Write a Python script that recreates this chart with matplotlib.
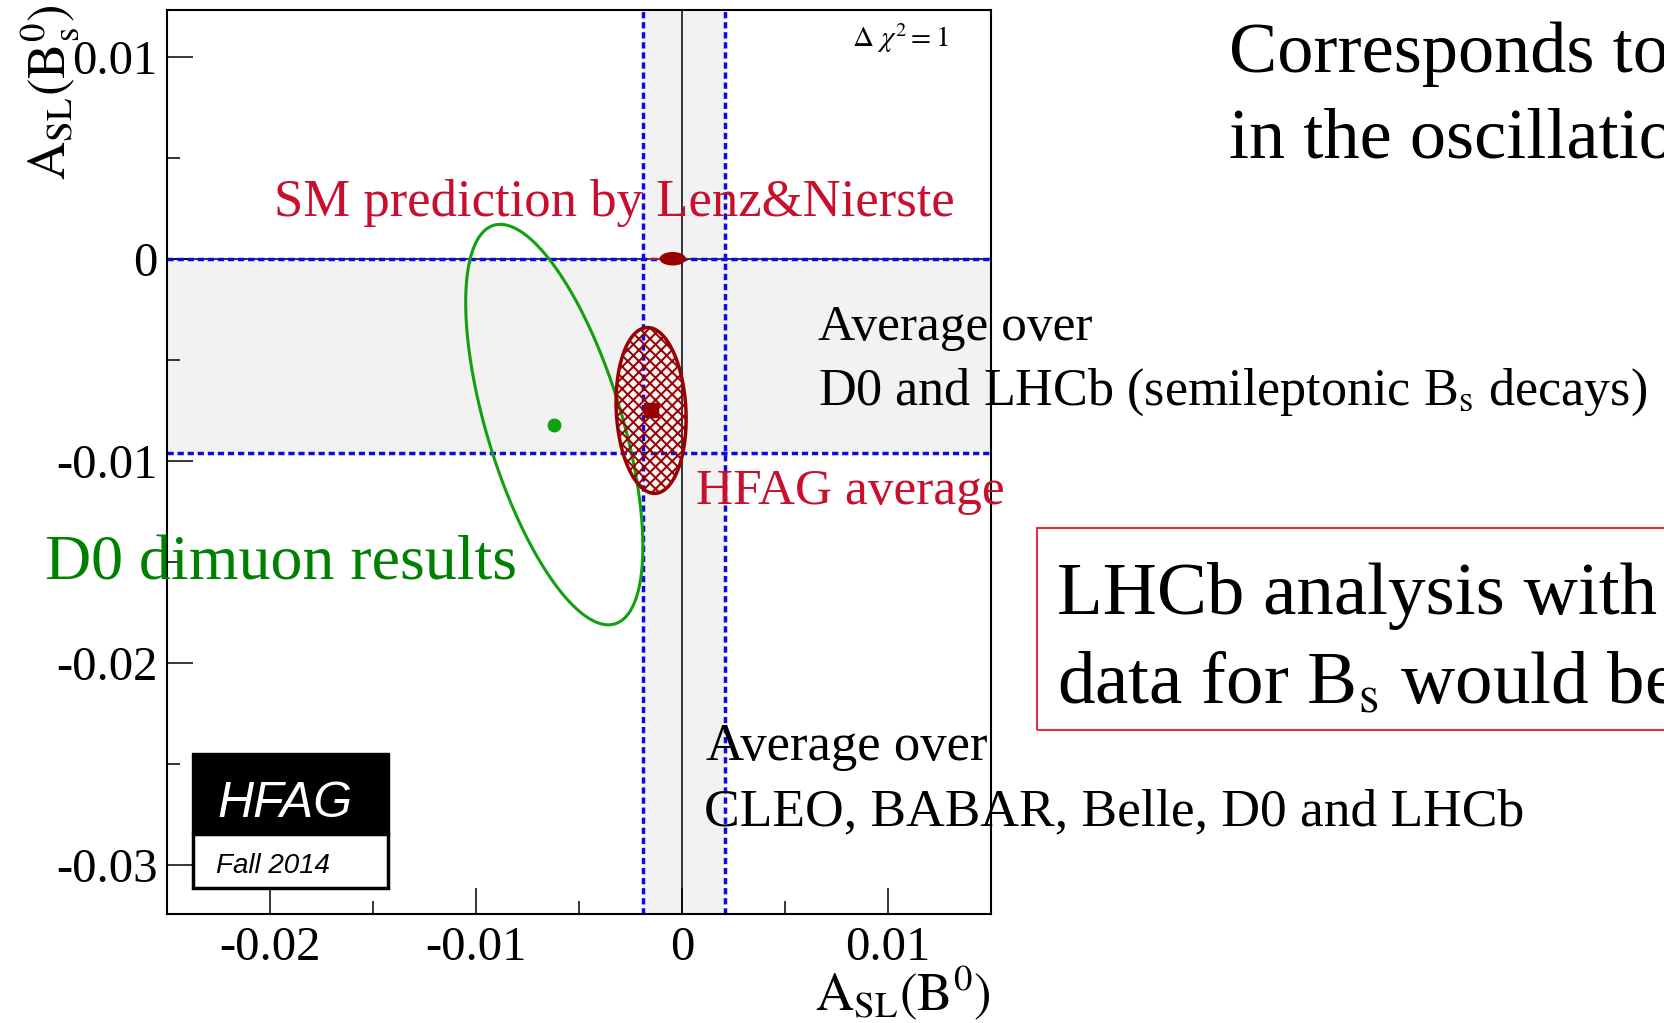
import numpy as np
import matplotlib
matplotlib.use("Agg")
import matplotlib.pyplot as plt
from matplotlib.patches import Polygon, Ellipse, Rectangle
from matplotlib.ticker import MultipleLocator, FuncFormatter

plt.rcParams['font.family'] = 'Liberation Serif'
plt.rcParams['mathtext.fontset'] = 'stix'
plt.rcParams['axes.unicode_minus'] = False
plt.rcParams['hatch.linewidth'] = 1.4

# plot ranges
x_range = (-0.025, 0.015)
y_range = (-0.0324, 0.0123)
x_major = [-0.02, -0.01, 0.0, 0.01]
y_major = [-0.03, -0.02, -0.01, 0.0, 0.01]

# D0 dimuon: a_sl(d), a_sl(s), errors, correlation
d0_center = (-0.0062, -0.0082)
d0_sigma = (0.0043, 0.0099)
d0_rho = -0.61

# HFAG average
hfag_center = (-0.0015, -0.0075)
hfag_sigma = (0.0017, 0.0041)
hfag_rho = -0.10

# SM prediction (Lenz & Nierste)
sm_center = (-0.00045, 0.0)
sm_halfwidth = (0.0006, 0.0003)
sm_line = (-0.0016, 0.0002)

# 1D averages
bd_avg, bd_err = 0.0001, 0.0020
bs_avg, bs_err = -0.0048, 0.0048

W, H = 1665, 1023
fx = lambda px: px / W
fy = lambda py: 1 - py / H

red = '#c8102e'
dark_red = '#990000'
green = '#10a010'
blue = '#0a0ae6'


def contour(center, sigma, rho, n=400):
    t = np.linspace(0, 2 * np.pi, n)
    x = center[0] + sigma[0] * np.cos(t)
    y = center[1] + sigma[1] * (rho * np.cos(t) + np.sqrt(1 - rho ** 2) * np.sin(t))
    return np.column_stack([x, y])


fig = plt.figure(figsize=(16.65, 10.23), dpi=100)
ax = fig.add_axes([fx(167), fy(914), (991 - 167) / W, (914 - 10) / H])
ax.set_xlim(*x_range)
ax.set_ylim(*y_range)

# 1 sigma bands
ax.axvspan(bd_avg - bd_err, bd_avg + bd_err, color='#f2f2f2', zorder=0, lw=0)
ax.axhspan(bs_avg - bs_err, bs_avg + bs_err, color='#f2f2f2', zorder=0, lw=0)
ax.axvline(0, color='#333333', lw=1.4, zorder=1)
ax.axhline(0, color='#333333', lw=1.4, zorder=1)
for v in (bd_avg - bd_err, bd_avg + bd_err):
    ax.axvline(v, color=blue, lw=2.5, ls=(0, (1.8, 1.1)), zorder=2)
for v in (bs_avg - bs_err, bs_avg + bs_err):
    ax.axhline(v, color=blue, lw=2.5, ls=(0, (1.8, 1.1)), zorder=2)

# D0 dimuon ellipse
ax.add_patch(Polygon(contour(d0_center, d0_sigma, d0_rho), closed=True,
                     fill=False, edgecolor=green, lw=2.2, zorder=3))
ax.plot(*d0_center, 'o', color=green, ms=9, zorder=4)

# HFAG average ellipse
ax.add_patch(Polygon(contour(hfag_center, hfag_sigma, hfag_rho), closed=True,
                     facecolor='none', edgecolor=dark_red, hatch='xxx', lw=2.5, zorder=3))
ax.plot(*hfag_center, 's', color=dark_red, ms=10, zorder=4)

# SM point
ax.plot(sm_line, [sm_center[1]] * 2, color='#cc2222', lw=1.2, zorder=4)
ax.add_patch(Ellipse(sm_center, 2 * sm_halfwidth[0], 2 * sm_halfwidth[1],
                     color=dark_red, zorder=5))

# axes styling
ax.set_xticks(x_major)
ax.set_yticks(y_major)
ax.xaxis.set_minor_locator(MultipleLocator(0.005))
ax.yaxis.set_minor_locator(MultipleLocator(0.005))
fmt = FuncFormatter(lambda v, p: '0' if abs(v) < 1e-9 else f'{v:g}')
ax.xaxis.set_major_formatter(fmt)
ax.yaxis.set_major_formatter(fmt)
ax.tick_params(which='major', direction='in', length=19, width=1.1, labelsize=35)
ax.tick_params(which='minor', direction='in', length=9.5, width=1.1)
ax.tick_params(axis='x', pad=9)
ax.tick_params(axis='y', pad=7)
for s in ax.spines.values():
    s.set_linewidth(1.5)

fig.text(fx(65), fy(180), r'$\mathrm{A_{SL}(B^0_s)}$', rotation=90,
         rotation_mode='anchor', ha='left', va='baseline', fontsize=38)
fig.text(fx(991), fy(1010), r'$\mathrm{A_{SL}(B^0)}$', ha='right',
         va='baseline', fontsize=38)
fig.text(fx(852), fy(47), r'$\Delta\ \chi^{2} = 1$', fontsize=21, va='baseline')

# HFAG logo
fig.add_artist(Rectangle((fx(192), fy(834)), (389 - 192) / W, (834 - 753) / H,
                         transform=fig.transFigure, facecolor='black', edgecolor='black'))
fig.add_artist(Rectangle((fx(193), fy(888)), (388 - 193) / W, (888 - 834) / H,
                         transform=fig.transFigure, facecolor='white', edgecolor='black', lw=2.5))
fig.text(fx(285), fy(817), 'HFAG', family='Liberation Sans', style='italic',
         color='white', fontsize=36, ha='center', va='baseline')
fig.text(fx(216), fy(873), 'Fall 2014', family='Liberation Sans', style='italic',
         fontsize=20, va='baseline')

# annotations
fig.text(fx(274), fy(216), 'SM prediction by Lenz&Nierste', color=red, fontsize=38, va='baseline')
fig.text(fx(818), fy(340), 'Average over', fontsize=37, va='baseline')
fig.text(fx(818), fy(405), r'D0 and LHCb (semileptonic B$_\mathrm{s}$ decays)', fontsize=37.5, va='baseline')
fig.text(fx(696), fy(504), 'HFAG average', color=red, fontsize=37, va='baseline')
fig.text(fx(45), fy(579), 'D0 dimuon results', color='#008000', fontsize=46, va='baseline')
fig.text(fx(706), fy(760), 'Average over', fontsize=38, va='baseline')
fig.text(fx(704), fy(825), 'CLEO, BABAR, Belle, D0 and LHCb', fontsize=38.5, va='baseline')

fig.text(fx(1229), fy(72), 'Corresponds to', fontsize=52, va='baseline')
fig.text(fx(1229), fy(158), 'in the oscillation', fontsize=52, va='baseline')

fig.add_artist(Rectangle((fx(1037), fy(730)), (1720 - 1037) / W, (730 - 528) / H,
                         transform=fig.transFigure, fill=False, edgecolor='#dd3340', lw=1.5))
fig.text(fx(1057), fy(614), 'LHCb analysis with', fontsize=54, va='baseline')
fig.text(fx(1057), fy(704), r'data for B$_\mathrm{s}$ would be', fontsize=54, va='baseline')

fig.savefig('out.png', dpi=100)
